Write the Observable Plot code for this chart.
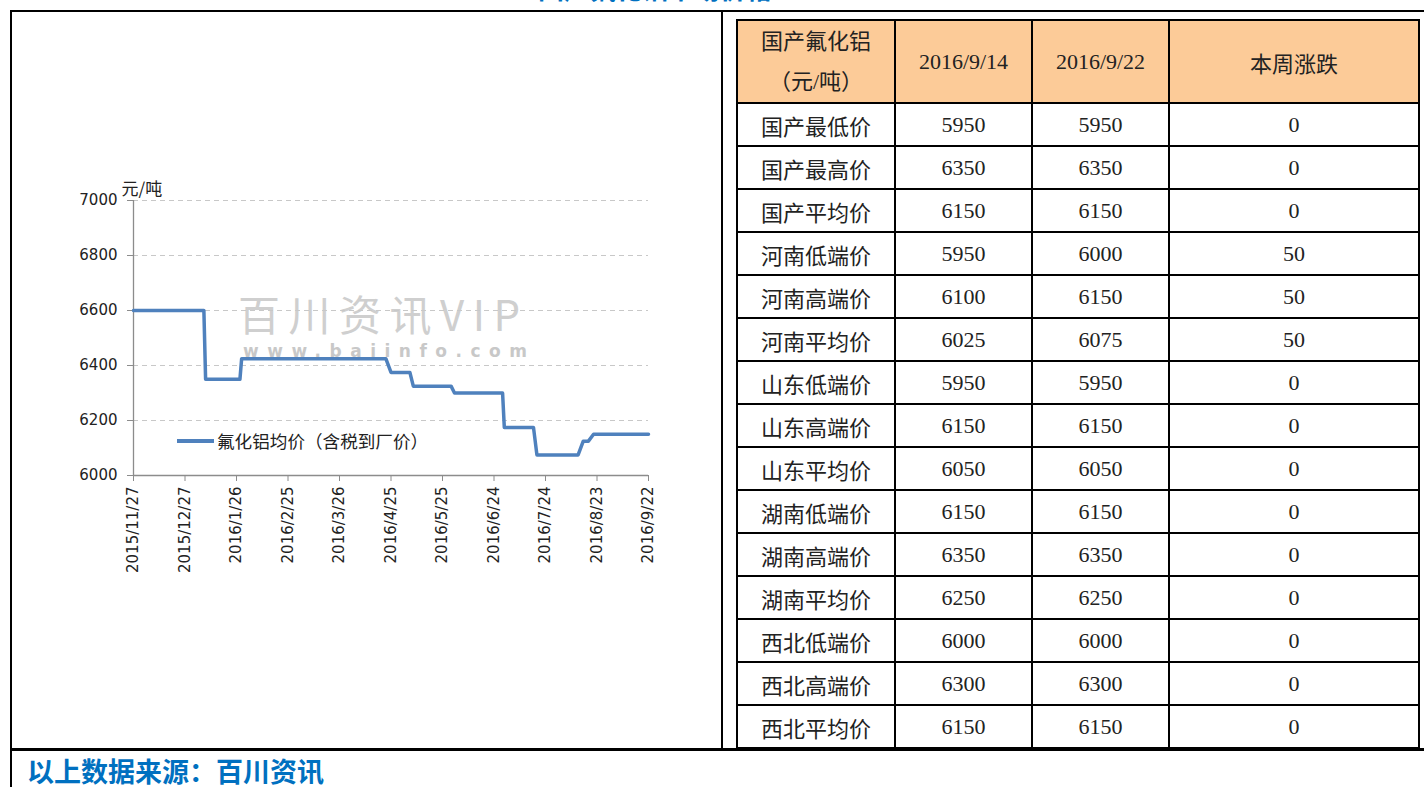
<!DOCTYPE html>
<html>
<head>
<meta charset="utf-8">
<script src="https://cdn.jsdelivr.net/npm/d3@7"></script>
<script src="https://cdn.jsdelivr.net/npm/@observablehq/plot@0.6"></script>
<style>
  html, body { margin: 0; padding: 0; background: #fff; }
  body { width: 1424px; height: 787px; position: relative; overflow: hidden; font-family: "Noto Sans CJK SC", sans-serif; }
  .ln { position: absolute; background: #000; }
  #title { position: absolute; left: 520px; top: -28px; width: 270px; line-height: 32px; text-align: center; color: #0070C0; font-weight: bold; font-size: 26px; white-space: nowrap; }
  #footer { position: absolute; left: 27px; top: 755px; color: #0070C0; font-weight: bold; font-size: 27px; line-height: 32px; white-space: nowrap; }
  #wm1 { position: absolute; left: 238px; top: 294px; color: #cfcfcf; font-size: 42px; line-height: 38px; letter-spacing: 8.5px; font-family: "Noto Sans CJK SC", sans-serif; white-space: nowrap; }
  #wm2 { position: absolute; left: 243px; top: 343px; color: #c8c8c8; font-size: 17px; line-height: 16px; font-weight: bold; letter-spacing: 8.5px; font-family: "DejaVu Sans", sans-serif; white-space: nowrap; }
  #chart { position: absolute; left: 60px; top: 170px; }
  #legend { position: absolute; left: 177px; top: 428px; display: flex; align-items: center; white-space: nowrap; }
  #legend .sw { width: 37px; height: 4px; background: #4F81BD; margin-right: 3px; }
  #legend span { font-size: 17.6px; color: #222; font-family: "Noto Sans CJK SC", sans-serif; }
  table { position: absolute; left: 736px; top: 19px; border-collapse: collapse; font-family: "Liberation Serif", "Noto Sans CJK SC", serif; font-size: 22px; color: #222; }
  td { border: 2px solid #000; text-align: center; padding: 0; height: 41px; }
  tr.hd td { background: #FCCB98; height: 81px; }
  td.c0 { width: 156px; }
  td.c1 { width: 135px; }
  td.c2 { width: 135px; }
  td.c3 { width: 248px; }
  .hdl { line-height: 40px; }
</style>
</head>
<body>
<div id="title">国产氟化铝市场价格</div>
<div class="ln" style="left:10px;top:10px;width:1414px;height:2px"></div>
<div class="ln" style="left:10px;top:10px;width:2px;height:777px"></div>
<div class="ln" style="left:721px;top:10px;width:2px;height:740px"></div>
<div class="ln" style="left:10px;top:748px;width:1414px;height:3px"></div>
<div id="wm1">百川资讯VIP</div>
<div id="wm2">www.baiinfo.com</div>
<div id="chart"></div>
<div id="legend"><div class="sw"></div><span>氟化铝均价（含税到厂价）</span></div>
<table id="tbl"></table>
<div id="footer">以上数据来源：百川资讯</div>
<script>
// ---- chart data ----
const seriesName = "氟化铝均价（含税到厂价）";
const unitLabel = "元/吨";
const dates = ["2015-11-27","2016-01-07","2016-01-08","2016-01-28","2016-01-29","2016-04-22","2016-04-25",
  "2016-05-06","2016-05-08","2016-05-30","2016-06-01","2016-06-29","2016-06-30","2016-07-17","2016-07-19",
  "2016-08-12","2016-08-15","2016-08-18","2016-08-21","2016-09-22"];
const prices = [6600,6600,6350,6350,6425,6425,6375,6375,6325,6325,6300,6300,6175,6175,6075,6075,6125,6125,6150,6150];
const xTickLabels = ["2015/11/27","2015/12/27","2016/1/26","2016/2/25","2016/3/26","2016/4/25","2016/5/25","2016/6/24","2016/7/24","2016/8/23","2016/9/22"];
const yTicks = [6000,6200,6400,6600,6800,7000];

// ---- table data ----
const tableHeader = ["国产氟化铝|（元/吨）","2016/9/14","2016/9/22","本周涨跌"];
const rowNames = ["国产最低价","国产最高价","国产平均价","河南低端价","河南高端价","河南平均价","山东低端价","山东高端价","山东平均价","湖南低端价","湖南高端价","湖南平均价","西北低端价","西北高端价","西北平均价"];
const price0914 = [5950,6350,6150,5950,6100,6025,5950,6150,6050,6150,6350,6250,6000,6300,6150];
const price0922 = [5950,6350,6150,6000,6150,6075,5950,6150,6050,6150,6350,6250,6000,6300,6150];
const weekChange = [0,0,0,50,50,50,0,0,0,0,0,0,0,0,0];

const parseDate = d3.utcParse("%Y-%m-%d");
const parseTick = d3.utcParse("%Y/%m/%d");
const rows = dates.map((d, i) => ({date: parseDate(d), price: prices[i]}));
const tickDates = xTickLabels.map(parseTick);
const fmt = d3.utcFormat("%Y/%-m/%-d");

const chart = Plot.plot({
  width: 620,
  height: 430,
  marginLeft: 73,
  marginRight: 32,
  marginTop: 30,
  marginBottom: 125,
  style: {fontFamily: "DejaVu Sans, sans-serif", fontSize: "15px", color: "#333", background: "transparent", overflow: "visible"},
  x: {type: "utc", domain: [tickDates[0], tickDates[tickDates.length - 1]]},
  y: {domain: [6000, 7000]},
  marks: [
    Plot.gridY(yTicks.slice(1), {stroke: "#c8c8c8", strokeOpacity: 1, strokeDasharray: "5,4"}),
    Plot.ruleY([6000], {stroke: "#8c8c8c", strokeWidth: 1.3}),
    Plot.ruleX([tickDates[0]], {stroke: "#8c8c8c", strokeWidth: 1.3}),
    Plot.axisY(yTicks, {tickSize: 6, tickPadding: 10, stroke: "#8c8c8c", label: null, fill: "#222", fontSize: 15, tickFormat: d => String(d)}),
    Plot.axisX(tickDates, {tickSize: 6, tickPadding: 5, tickRotate: -90, tickFormat: fmt, stroke: "#8c8c8c", label: null, fill: "#222", fontSize: 15}),
    Plot.text([unitLabel], {frameAnchor: "top-left", dx: -12, dy: -18, textAnchor: "start", fontSize: 17, fontFamily: "Noto Sans CJK SC, sans-serif", fill: "#222"}),
    Plot.line(rows, {x: "date", y: "price", stroke: "#4F81BD", strokeWidth: 3.5, strokeLinejoin: "round"})
  ]
});
document.getElementById("chart").appendChild(chart);

// ---- table ----
const tbl = document.getElementById("tbl");
const hd = document.createElement("tr");
hd.className = "hd";
tableHeader.forEach((h, i) => {
  const td = document.createElement("td");
  td.className = "c" + i;
  if (h.includes("|")) {
    td.innerHTML = h.split("|").map(s => `<div class="hdl">${s}</div>`).join("");
  } else td.textContent = h;
  hd.appendChild(td);
});
tbl.appendChild(hd);
rowNames.forEach((name, i) => {
  const tr = document.createElement("tr");
  [name, price0914[i], price0922[i], weekChange[i]].forEach((v, j) => {
    const td = document.createElement("td");
    td.className = "c" + j;
    td.textContent = v;
    tr.appendChild(td);
  });
  tbl.appendChild(tr);
});
</script>
</body>
</html>
